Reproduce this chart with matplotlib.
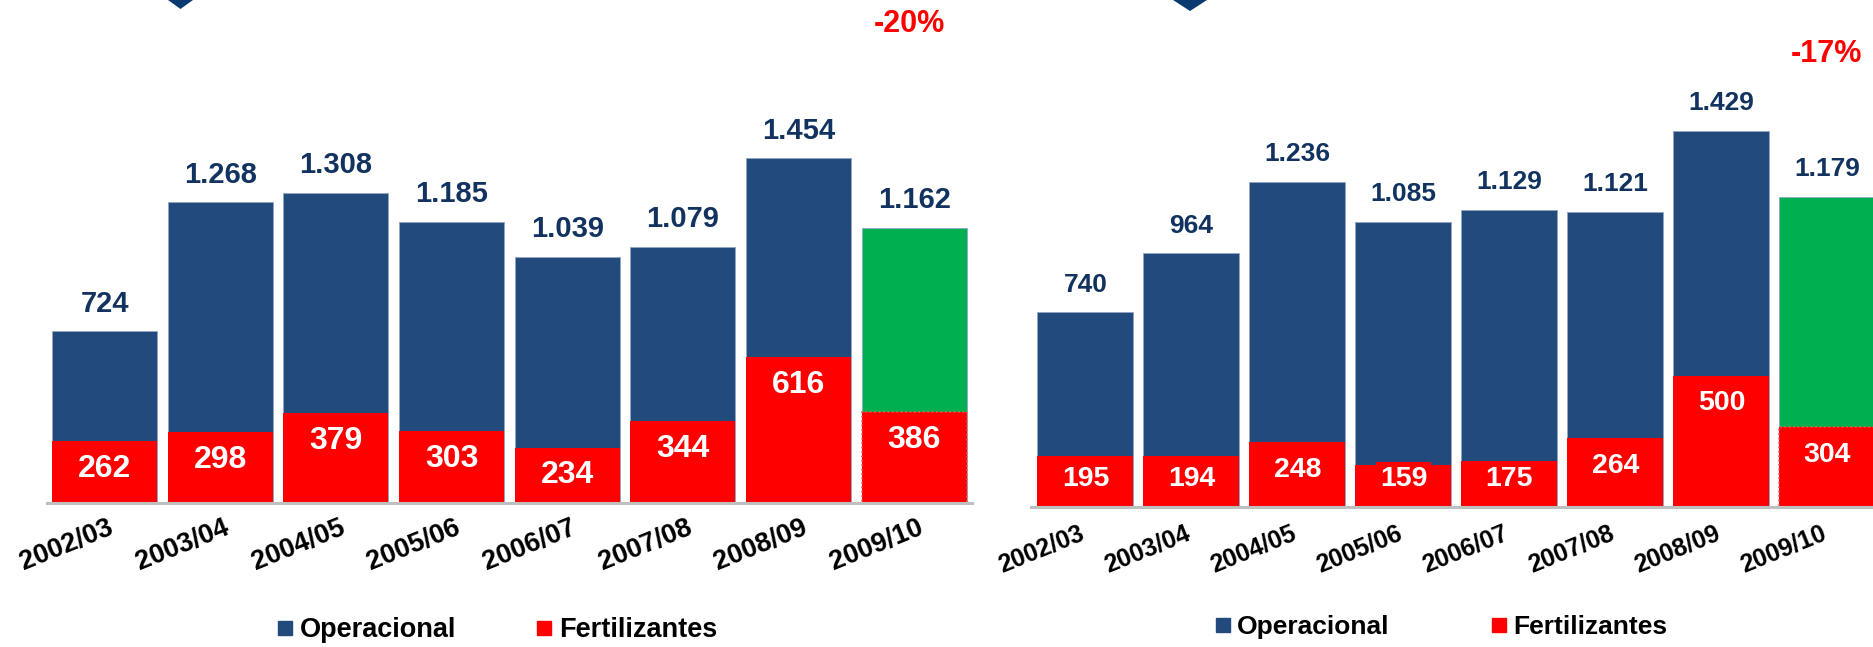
import matplotlib.pyplot as plt
from matplotlib.lines import Line2D
from matplotlib.patches import Polygon

plt.rc('font', family=['Liberation Sans', 'DejaVu Sans'], weight='bold')

years = ['2002/03', '2003/04', '2004/05', '2005/06', '2006/07', '2007/08', '2008/09', '2009/10']
total_left = [724, 1268, 1308, 1185, 1039, 1079, 1454, 1162]
fert_left = [262, 298, 379, 303, 234, 344, 616, 386]
total_right = [740, 964, 1236, 1085, 1129, 1121, 1429, 1179]
fert_right = [195, 194, 248, 159, 175, 264, 500, 304]
change_left = '-20%'
change_right = '-17%'

BLUE = '#224A7C'
NAVY = '#12335F'
RED = '#FF0000'
GREEN = '#00B050'
GRAY = '#BFBFBF'

W, H = 1874, 647


def fmt(v):
  return '{:,}'.format(v).replace(',', '.')


def plot_panel(ax, totals, ferts, change, change_xy, ymax, width, top_fs, in_fs, tick_fs, tick_off):
  n = len(totals)
  x = list(range(n))
  ppu = ax.get_position().height * H / ymax   # pixels per unit
  ops_colors = [BLUE] * (n - 1) + [GREEN]
  ax.bar(x, totals, width, color=ops_colors, edgecolor='#8FA6C4', linewidth=0.6, zorder=2)
  bars = ax.bar(x, ferts, width, color=RED, edgecolor=RED, linewidth=0, zorder=3)
  bars[-1].set_edgecolor('#FF5050')
  bars[-1].set_linewidth(1.2)
  bars[-1].set_linestyle(':')

  for i in x:
    ax.annotate(fmt(totals[i]), xy=(i, totals[i]), xytext=(0, 20), textcoords='offset points',
                ha='center', va='center', fontsize=top_fs, color=NAVY, fontweight='bold')
    ylab = max(ferts[i] - 28 / ppu, 28 / ppu)
    ax.text(i, ylab, fmt(ferts[i]), ha='center', va='center', fontsize=in_fs, color='white',
            fontweight='bold', zorder=5,
            bbox=dict(boxstyle='square,pad=0.14', facecolor=RED, edgecolor='none'))
    ax.annotate(years[i], xy=(i, 0), xytext=tick_off, textcoords='offset points',
                rotation=22, rotation_mode='anchor', ha='right', va='center',
                fontsize=tick_fs, fontweight='bold', color='black')

  ax.text(change_xy[0], change_xy[1], change, ha='center', va='center', fontsize=22,
          color=RED, fontweight='bold')

  ax.set_ylim(0, ymax)
  for s in ['top', 'right', 'left']:
    ax.spines[s].set_visible(False)
  ax.spines['bottom'].set_color(GRAY)
  ax.spines['bottom'].set_linewidth(2.2)
  ax.spines['bottom'].set_zorder(4)
  ax.set_xticks([])
  ax.set_yticks([])
  ax.patch.set_alpha(0)


fig = plt.figure(figsize=(W / 100, H / 100), dpi=100)

axL = fig.add_axes([47 / W, 144 / H, 925 / W, 503 / H])
axL.set_xlim(-0.497, 7.498)
plot_panel(axL, total_left, fert_left, change_left, (6.96, 2021), 503 / 0.237, 0.9075,
           21, 23, 19.5, (5.5, -17))

axR = fig.add_axes([1031 / W, 140 / H, 843 / W, 507 / H])
axR.set_xlim(-0.514, 7.439)
plot_panel(axR, total_right, fert_right, change_right, (6.99, 1722), 507 / 0.263, 0.906,
           19, 20.5, 18, (-1.5, -18))

# legends
handles = [Line2D([], [], marker='s', linestyle='none', markersize=10.5, color=BLUE),
           Line2D([], [], marker='s', linestyle='none', markersize=10.5, color=RED)]
labels = ['Operacional', 'Fertilizantes']
fig.legend(handles, labels, loc='center left', bbox_to_anchor=(278 / W, 17 / H), ncol=2,
           frameon=False, fontsize=19.5, handlelength=0.5, handletextpad=0.3,
           columnspacing=3.0, borderpad=0, borderaxespad=0)
fig.legend(handles, labels, loc='center left', bbox_to_anchor=(1216 / W, 20 / H), ncol=2,
           frameon=False, fontsize=19, handlelength=0.5, handletextpad=0.3,
           columnspacing=3.9, borderpad=0, borderaxespad=0)

# logo fragments at the top edge
for x0, x1, yb in [(168, 193, 9), (1173, 1207, 11)]:
  pts = [(x0 / W, 1.0), (x1 / W, 1.0), ((x0 + x1) / 2 / W, 1 - yb / H)]
  fig.patches.append(Polygon(pts, closed=True, transform=fig.transFigure,
                             facecolor='#0B3A6E', edgecolor='none'))

plt.savefig('out.png', dpi=100)
